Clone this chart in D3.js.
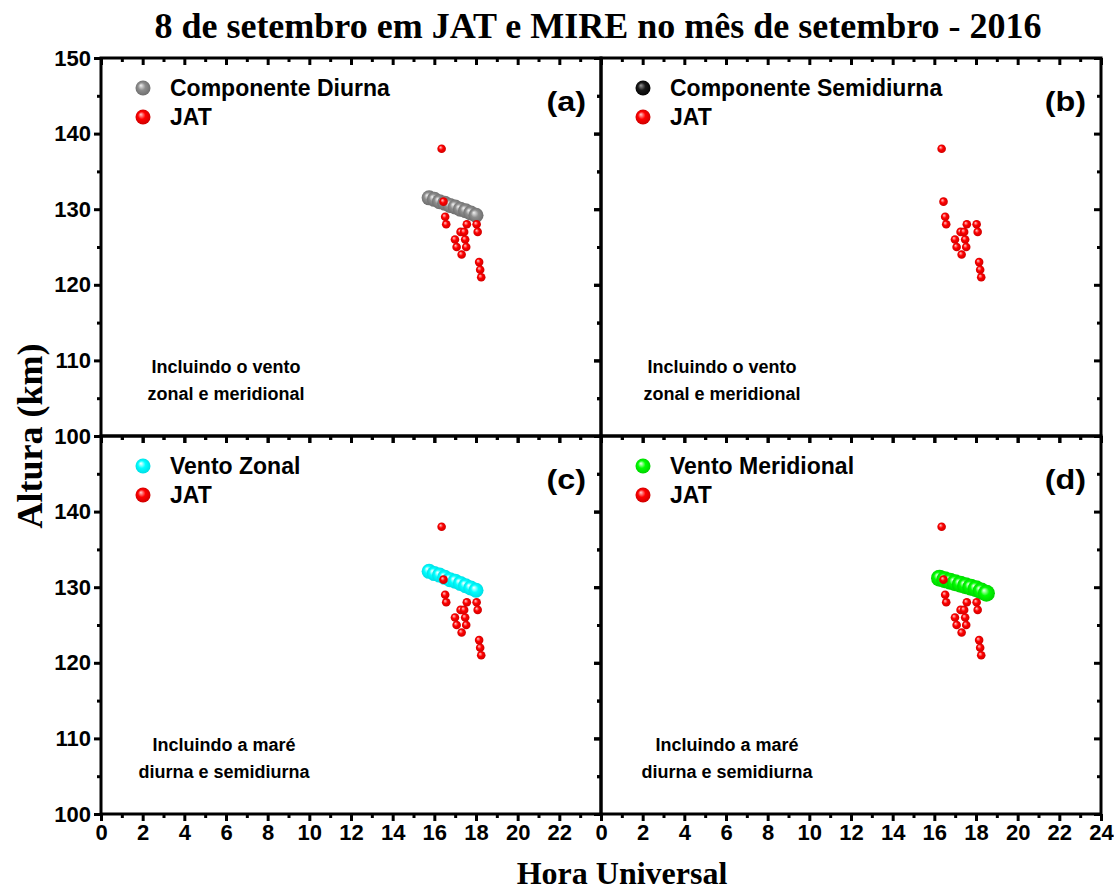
<!DOCTYPE html>
<html>
<head>
<meta charset="utf-8">
<script src="https://cdn.jsdelivr.net/npm/d3@7"></script>
<style>
  html, body { margin: 0; padding: 0; background: #fff; }
  svg { display: block; }
  .tick text { font-family: "Liberation Sans", Arial, sans-serif; font-weight: bold; font-size: 22px; fill: #000; }
</style>
</head>
<body>
<svg id="chart" width="1114" height="892"></svg>
<script>
// Observed meteor-echo heights (JAT) — hour (UT) and height (km)
const jatHora   = [16.35, 16.44, 16.52, 16.57, 16.99, 17.07, 17.26, 17.31, 17.43, 17.48, 17.53, 17.56, 18.03, 18.08, 18.15, 18.20, 18.25];
const jatAltura = [138,   131,   129,   128,   126,   125,   127,   124,   127,   126,   125,   128,   128,   127,   123,   122,   121];

// Modelled heights
const diurnaHora    = [15.75, 16.0, 16.25, 16.5, 16.75, 17.0, 17.25, 17.5, 17.75, 18.0];
const diurnaAltura  = [131.5, 131.3, 131.0, 130.8, 130.5, 130.3, 130.0, 129.8, 129.5, 129.2];
const zonalHora     = [15.75, 16.0, 16.25, 16.5, 16.75, 17.0, 17.25, 17.5, 17.75, 18.0];
const zonalAltura   = [132.1, 131.8, 131.6, 131.3, 131.0, 130.8, 130.5, 130.2, 129.9, 129.6];
const meridHora     = [16.25, 16.5, 16.75, 17.0, 17.25, 17.5, 17.75, 18.0, 18.25, 18.5];
const meridAltura   = [131.2, 131.0, 130.8, 130.6, 130.4, 130.2, 130.0, 129.8, 129.5, 129.2];

// Axis ticks
const xTicksMajor = [0, 2, 4, 6, 8, 10, 12, 14, 16, 18, 20, 22, 24];
const xTicksMinor = [1, 3, 5, 7, 9, 11, 13, 15, 17, 19, 21, 23];
const yTicksMajor = [100, 110, 120, 130, 140, 150];
const yTicksMinor = [105, 115, 125, 135, 145];

const svg = d3.select("#chart");
const W = 500, H = 378;
const x = d3.scaleLinear().domain([0, 24]).range([0, W]);
const y = d3.scaleLinear().domain([100, 150]).range([H, 0]);

const SANS = "Liberation Sans, Arial, sans-serif";
const SERIF = "Liberation Serif, Times New Roman, serif";

// Shaded sphere gradients
const defs = svg.append("defs");
function sphere(id, hi, base, edge) {
  const g = defs.append("radialGradient").attr("id", id)
    .attr("cx", "50%").attr("cy", "50%").attr("r", "55%")
    .attr("fx", "35%").attr("fy", "32%");
  g.append("stop").attr("offset", "0%").attr("stop-color", hi);
  g.append("stop").attr("offset", "45%").attr("stop-color", base);
  g.append("stop").attr("offset", "100%").attr("stop-color", edge);
}
sphere("gRed", "#ffd0d0", "#ff0000", "#c80000");
sphere("gGray", "#f2f2f2", "#8e8e8e", "#6a6a6a");
sphere("gBlack", "#9a9a9a", "#1a1a1a", "#000000");
sphere("gCyan", "#ffffff", "#00ffff", "#00d8e0");
sphere("gGreen", "#f0fff0", "#00ff00", "#00cc00");

const panels = [
  { x0: 101, y0: 58,  letter: "(a)", legend: "Componente Diurna",     grad: "gGray",  r: 7.5,
    hora: diurnaHora, alt: diurnaAltura, note: ["Incluindo o vento", "zonal e meridional"], noteX: 226,
    left: true, bottom: false },
  { x0: 601, y0: 58,  letter: "(b)", legend: "Componente Semidiurna", grad: "gBlack", r: 7.5,
    hora: [], alt: [], note: ["Incluindo o vento", "zonal e meridional"], noteX: 722,
    left: false, bottom: false },
  { x0: 101, y0: 436, letter: "(c)", legend: "Vento Zonal",           grad: "gCyan",  r: 7.5,
    hora: zonalHora, alt: zonalAltura, note: ["Incluindo a maré", "diurna e semidiurna"], noteX: 224,
    left: true, bottom: true, xlast: 22 },
  { x0: 601, y0: 436, letter: "(d)", legend: "Vento Meridional",      grad: "gGreen", r: 8.5,
    hora: meridHora, alt: meridAltura, note: ["Incluindo a maré", "diurna e semidiurna"], noteX: 727,
    left: false, bottom: true, xlast: 24 }
];

function styleAxis(g) {
  g.select(".domain").remove();
  g.selectAll(".tick line").attr("stroke", "#000").attr("stroke-width", 3);
}

panels.forEach((p) => {
  const g = svg.append("g").attr("transform", `translate(${p.x0},${p.y0})`);

  // Left axis (outward ticks), labelled only on the outer panels
  const la = g.append("g").call(d3.axisLeft(y).tickValues(yTicksMajor).tickSize(7).tickPadding(3)
    .tickFormat(d => {
      if (!p.left) return "";
      if (p.y0 > 100 && d === 150) return "";
      return d;
    }));
  styleAxis(la);
  styleAxis(g.append("g").call(d3.axisLeft(y).tickValues(yTicksMinor).tickSize(4).tickFormat("")));

  // Right axis (inward ticks)
  styleAxis(g.append("g").attr("transform", `translate(${W},0)`)
    .call(d3.axisRight(y).tickValues(yTicksMajor).tickSize(-7).tickFormat("")));
  styleAxis(g.append("g").attr("transform", `translate(${W},0)`)
    .call(d3.axisRight(y).tickValues(yTicksMinor).tickSize(-4).tickFormat("")));

  // Top axis (inward ticks)
  styleAxis(g.append("g").call(d3.axisTop(x).tickValues(xTicksMajor).tickSize(-7).tickFormat("")));
  styleAxis(g.append("g").call(d3.axisTop(x).tickValues(xTicksMinor).tickSize(-4).tickFormat("")));

  // Bottom axis (outward ticks)
  const ba = g.append("g").attr("transform", `translate(0,${H})`)
    .call(d3.axisBottom(x).tickValues(xTicksMajor).tickSize(7).tickPadding(3)
      .tickFormat(d => (p.bottom && d <= p.xlast) ? d : ""));
  styleAxis(ba);
  styleAxis(g.append("g").attr("transform", `translate(0,${H})`)
    .call(d3.axisBottom(x).tickValues(xTicksMinor).tickSize(4).tickFormat("")));

  // Frame
  g.append("rect").attr("width", W).attr("height", H)
    .attr("fill", "none").attr("stroke", "#000").attr("stroke-width", 3);

  // Modelled series
  g.selectAll("circle.model").data(p.hora.map((h, k) => [h, p.alt[k]])).join("circle")
    .attr("class", "model")
    .attr("cx", d => x(d[0])).attr("cy", d => y(d[1])).attr("r", p.r)
    .attr("fill", `url(#${p.grad})`);

  // Observed JAT
  g.selectAll("circle.jat").data(jatHora.map((h, k) => [h, jatAltura[k]])).join("circle")
    .attr("class", "jat")
    .attr("cx", d => x(d[0])).attr("cy", d => y(d[1])).attr("r", 4.3)
    .attr("fill", "url(#gRed)");

  // Legend
  const lg = g.append("g").attr("transform", "translate(42,30)");
  lg.append("circle").attr("cx", 0).attr("cy", 0).attr("r", 7.5).attr("fill", `url(#${p.grad})`);
  lg.append("text").attr("x", 27).attr("y", 8).text(p.legend)
    .attr("font-family", SANS).attr("font-weight", "bold").attr("font-size", 23);
  lg.append("circle").attr("cx", 0).attr("cy", 29).attr("r", 7.5).attr("fill", "url(#gRed)");
  lg.append("text").attr("x", 27).attr("y", 37).text("JAT")
    .attr("font-family", SANS).attr("font-weight", "bold").attr("font-size", 23);

  // Panel letter
  g.append("text").attr("transform", `translate(${W - 15},53) scale(1.2,1)`).attr("text-anchor", "end").text(p.letter)
    .attr("font-family", SANS).attr("font-weight", "bold").attr("font-size", 27);

  // Note
  const nt = g.append("text").attr("text-anchor", "middle")
    .attr("font-family", SANS).attr("font-weight", "bold").attr("font-size", 18);
  p.note.forEach((line, k) => {
    nt.append("tspan").attr("x", p.noteX - p.x0).attr("y", 315 + k * 27).text(line);
  });
});

// Titles
svg.append("text").attr("x", 598).attr("y", 38).attr("text-anchor", "middle")
  .attr("font-family", SERIF).attr("font-weight", "bold").attr("font-size", 36)
  .text("8 de setembro em JAT e MIRE no mês de setembro - 2016");
svg.append("text").attr("transform", "translate(42,436) rotate(-90)").attr("text-anchor", "middle")
  .attr("font-family", SERIF).attr("font-weight", "bold").attr("font-size", 36)
  .text("Altura (km)");
svg.append("text").attr("x", 622).attr("y", 884).attr("text-anchor", "middle")
  .attr("font-family", SERIF).attr("font-weight", "bold").attr("font-size", 32)
  .text("Hora Universal");
</script>
</body>
</html>
